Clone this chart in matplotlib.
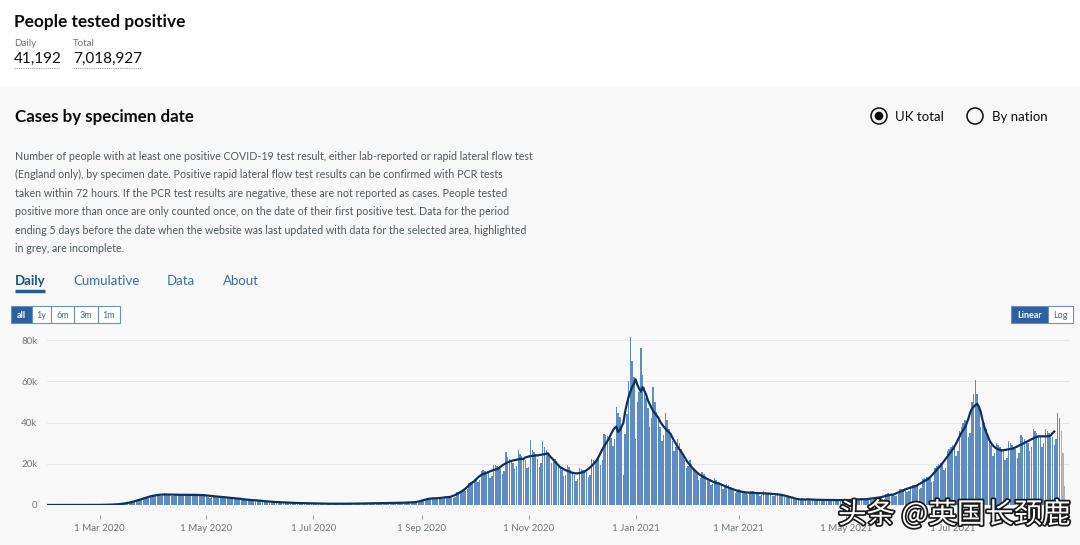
import numpy as np
import pandas as pd
import matplotlib
matplotlib.use("Agg")
import matplotlib.pyplot as plt
import matplotlib.dates as mdates
import matplotlib.patheffects as pe
from matplotlib.patches import Rectangle, Circle

plt.rcParams["font.family"] = ["Lato", "DejaVu Sans"]

# daily cases by specimen date, thousands, one row per week (Mon..Sun)
start_date = "2020-01-28"
n_incomplete = 3

early_2020 = [
    0, 0, 0, 0, 0, 0,
    0, 0, 0, 0, 0, 0, 0,
    0, 0, 0, 0, 0, 0, 0,
    0, 0, 0, 0, 0, 0, 0,
    0, 0, 0, 0, 0.01, 0.02, 0.02,
    0.04, 0.06, 0.07, 0.1, 0.13, 0.13, 0.15,
    0.25, 0.3, 0.35, 0.42, 0.5, 0.45, 0.5,
    0.9, 1.0, 1.2, 1.4, 1.6, 1.5, 1.7,
    2.5, 2.8, 3.0, 3.3, 3.5, 3.2, 3.4,
    4.5, 4.8, 4.9, 4.9, 5.0, 4.3, 4.4,
    5.4, 5.6, 5.5, 5.3, 4.9, 4.5, 4.4,
    5.3, 5.5, 5.3, 5.1, 4.8, 4.3, 4.3,
    5.3, 5.4, 5.2, 5.0, 4.8, 4.4, 4.2,
    5.4, 5.3, 5.1, 5.2, 4.6, 3.8, 3.6,
]
mid_2020 = [
    4.9, 4.8, 4.5, 4.3, 3.8, 3.4, 3.3,
    4.2, 4.0, 3.8, 3.6, 3.3, 2.9, 2.8,
    3.5, 3.4, 3.2, 3.0, 2.8, 2.4, 2.3,
    2.3, 2.8, 2.6, 2.5, 2.3, 2.0, 1.9,
    2.2, 2.1, 2.0, 1.8, 1.7, 1.4, 1.4,
    1.7, 1.6, 1.5, 1.4, 1.3, 1.1, 1.1,
    1.3, 1.3, 1.2, 1.1, 1.0, 0.9, 0.9,
    1.1, 1.0, 0.95, 0.9, 0.85, 0.7, 0.7,
    0.9, 0.85, 0.8, 0.75, 0.7, 0.6, 0.6,
    0.75, 0.75, 0.7, 0.65, 0.6, 0.5, 0.5,
    0.7, 0.7, 0.65, 0.6, 0.55, 0.45, 0.5,
    0.75, 0.75, 0.7, 0.65, 0.6, 0.5, 0.55,
    0.85, 0.85, 0.8, 0.75, 0.7, 0.6, 0.65,
    0.95, 0.95, 0.9, 0.85, 0.8, 0.7, 0.75,
    1.05, 1.05, 1.0, 0.95, 0.9, 0.8, 0.85,
    1.15, 1.15, 1.1, 1.05, 1.0, 0.9, 0.95,
    1.4, 1.4, 1.35, 1.3, 1.25, 1.1, 1.2,
]
autumn_2020 = [
    1.9, 2.3, 2.6, 2.8, 2.9, 2.7, 2.9,
    3.6, 3.5, 3.4, 3.3, 3.2, 2.9, 3.1,
    4.2, 4.2, 4.1, 3.9, 3.8, 3.4, 3.7,
    6.2, 6.4, 6.5, 6.8, 7.2, 6.6, 7.6,
    10.5, 11.0, 11.6, 12.4, 12.8, 11.0, 12.2,
    16.5, 16.8, 16.6, 16.2, 15.6, 13.2, 14.2,
    19.5, 19.2, 18.8, 18.2, 17.4, 15.0, 16.4,
    25.5, 23.4, 22.4, 21.6, 20.6, 17.4, 18.8,
    26.8, 24.6, 23.8, 23.0, 21.8, 17.8, 18.6,
    31.5, 26.5, 25.5, 24.2, 22.5, 18.2, 20.2,
    31.0, 28.0, 26.5, 25.0, 23.5, 20.2, 20.8,
    22.5, 21.5, 20.0, 18.5, 17.0, 14.0, 14.5,
    19.2, 18.2, 17.0, 16.0, 14.6, 11.8, 12.4,
]
winter_2020_21 = [
    18.0, 17.6, 17.2, 16.8, 16.0, 13.4, 14.6,
    22.4, 22.0, 22.0, 22.6, 22.4, 19.6, 21.8,
    34.5, 33.8, 33.6, 33.0, 32.4, 28.8, 32.0,
    47.5, 44.8, 42.5, 38.0, 14.5, 34.5, 44.0,
    60.0, 81.6, 70.0, 62.0, 32.0, 50.0, 55.0,
    76.0, 63.0, 57.0, 52.0, 47.0, 38.0, 42.0,
    57.0, 50.0, 45.0, 41.0, 38.0, 31.0, 34.0,
    44.5, 41.0, 37.0, 34.0, 31.0, 26.0, 28.0,
    32.0, 30.0, 27.0, 24.0, 22.0, 18.0, 19.0,
    22.0, 20.0, 18.0, 16.5, 15.0, 12.0, 13.0,
    16.0, 15.0, 14.0, 12.5, 11.5, 9.5, 10.0,
    13.0, 12.0, 11.0, 10.0, 9.5, 8.0, 8.5,
    10.0, 9.5, 8.5, 7.8, 7.0, 5.8, 6.4,
]
spring_2021 = [
    7.6, 7.2, 6.6, 6.2, 5.9, 4.8, 5.2,
    6.8, 6.6, 6.2, 5.9, 5.5, 4.5, 4.9,
    6.6, 6.4, 6.0, 5.7, 5.2, 4.3, 4.6,
    6.0, 5.8, 5.5, 5.2, 4.7, 3.8, 3.9,
    4.6, 4.4, 4.1, 3.7, 2.6, 2.5, 2.3,
    2.2, 3.3, 3.1, 2.9, 2.7, 2.2, 2.1,
    3.0, 2.9, 2.7, 2.6, 2.4, 2.0, 2.0,
    2.9, 2.8, 2.6, 2.5, 2.3, 1.9, 1.9,
    2.8, 2.7, 2.6, 2.5, 2.3, 1.9, 1.8,
    2.0, 3.0, 2.9, 2.8, 2.7, 2.2, 2.2,
    3.2, 3.1, 3.0, 2.9, 2.8, 2.3, 2.4,
    4.0, 4.0, 3.8, 3.7, 3.5, 2.9, 3.1,
    5.4, 5.6, 5.4, 5.2, 5.0, 4.2, 4.4,
]
summer_2021 = [
    5.2, 7.8, 8.0, 8.0, 7.6, 6.2, 6.6,
    9.2, 9.6, 9.8, 9.8, 9.6, 8.0, 8.4,
    12.5, 13.0, 13.5, 13.5, 13.0, 11.0, 11.5,
    18.0, 19.0, 20.0, 20.5, 20.0, 17.0, 18.0,
    26.0, 27.0, 28.0, 29.0, 28.0, 24.0, 26.0,
    36.0, 38.0, 40.0, 41.0, 40.0, 33.0, 35.0,
    50.0, 54.0, 60.6, 54.0, 47.0, 38.0, 40.0,
    40.0, 37.0, 34.0, 31.0, 29.0, 24.0, 25.0,
    30.0, 29.0, 28.0, 27.0, 26.0, 22.0, 23.0,
    31.0, 30.0, 29.0, 28.0, 27.0, 23.0, 25.0,
    34.0, 33.0, 32.0, 31.0, 30.0, 26.0, 28.0,
    37.0, 36.0, 35.0, 34.0, 33.0, 28.0, 30.0,
    37.0, 36.0, 35.0, 34.0, 33.0, 29.0, 32.0,
    44.5, 42.0, 36.0, 25.0, 9.0,
]

x_ticks = ["2020-03-01", "2020-05-01", "2020-07-01", "2020-09-01", "2020-11-01",
           "2021-01-01", "2021-03-01", "2021-05-01", "2021-07-01"]
y_ticks = [0, 20000, 40000, 60000, 80000]
y_labels = ["0", "20k", "40k", "60k", "80k"]

desc_lines = [
    "Number of people with at least one positive COVID-19 test result, either lab-reported or rapid lateral flow test",
    "(England only), by specimen date. Positive rapid lateral flow test results can be confirmed with PCR tests",
    "taken within 72 hours. If the PCR test results are negative, these are not reported as cases. People tested",
    "positive more than once are only counted once, on the date of their first positive test. Data for the period",
    "ending 5 days before the date when the website was last updated with data for the selected area, highlighted",
    "in grey, are incomplete.",
]

cases = np.array(early_2020 + mid_2020 + autumn_2020 + winter_2020_21
                 + spring_2021 + summer_2021) * 1000
dates = pd.date_range(start_date, periods=len(cases), freq="D")
complete = pd.Series(cases[:-n_incomplete], index=dates[:-n_incomplete])
avg7 = complete.rolling(7, center=True).mean()

fig = plt.figure(figsize=(10.8, 5.45), dpi=100)
fig.patch.set_facecolor("white")

# page furniture drawn in pixel coords
ui = fig.add_axes([0, 0, 1, 1])
ui.set_xlim(0, 1080)
ui.set_ylim(545, 0)
ui.axis("off")
ui.add_patch(Rectangle((0, 87), 1080, 458, color="#f8f8f8", lw=0))

dark = "#0b0c0c"
grey_txt = "#505a5f"
ui.text(14, 22, "People tested positive", fontsize=12.4, fontweight="bold", color=dark, va="center")
ui.text(14, 43, "Daily", fontsize=7, color="#6f777b", va="center")
ui.text(73, 43, "Total", fontsize=7, color="#6f777b", va="center")
ui.text(14, 59, "41,192", fontsize=11, color=dark, va="center")
ui.text(73, 59, "7,018,927", fontsize=11, color=dark, va="center")
ui.plot([14, 59], [68, 68], ls=(0, (1, 1)), color="#9aa0a3", lw=0.8)
ui.plot([73, 142], [68, 68], ls=(0, (1, 1)), color="#9aa0a3", lw=0.8)

ui.text(15, 117, "Cases by specimen date", fontsize=12.2, fontweight="bold", color=dark, va="center")

ui.add_patch(Circle((879, 116), 8, fill=False, ec=dark, lw=1.1))
ui.add_patch(Circle((879, 116), 3.6, color=dark))
ui.text(895, 117, "UK total", fontsize=9.5, color=dark, va="center")
ui.add_patch(Circle((975, 116), 8, fill=False, ec=dark, lw=1.1))
ui.text(992, 117, "By nation", fontsize=9.5, color=dark, va="center")

for i, line in enumerate(desc_lines):
    ui.text(15, 156 + i * 18.6, line, fontsize=7.7, color=grey_txt, va="center")

ui.text(15, 281, "Daily", fontsize=9.5, fontweight="bold", color="#1d4f86", va="center")
ui.plot([15, 45], [291, 291], color="#2a5b95", lw=2.5, solid_capstyle="butt")
for x, lab in [(73, "Cumulative"), (167, "Data"), (223, "About")]:
    ui.text(x, 281, lab, fontsize=9.5, color="#3d6fa5", va="center")

btn_edge = "#6b8fbf"
for x0, x1, lab in [(11, 32, "all"), (32, 51, "1y"), (51, 74, "6m"), (74, 98, "3m"), (98, 120, "1m")]:
    on = lab == "all"
    ui.add_patch(Rectangle((x0, 306), x1 - x0, 17, fc="#2f5f9e" if on else "white",
                           ec=btn_edge, lw=0.8))
    ui.text((x0 + x1) / 2, 315, lab, fontsize=6.5, ha="center", va="center",
            color="white" if on else "#3d6fa5", fontweight="bold" if on else "normal")
for x0, x1, lab in [(1011, 1048, "Linear"), (1048, 1073, "Log")]:
    on = lab == "Linear"
    ui.add_patch(Rectangle((x0, 306), x1 - x0, 17, fc="#2f5f9e" if on else "white",
                           ec=btn_edge, lw=0.8))
    ui.text((x0 + x1) / 2, 315, lab, fontsize=6.5, ha="center", va="center",
            color="white" if on else "#3d6fa5", fontweight="bold" if on else "normal")

# chart
ymax = 82000
top_px = 505 - ymax / 80000 * 165
ax = fig.add_axes([47 / 1080, 40 / 545, 1023 / 1080, (505 - top_px) / 545])
ax.patch.set_alpha(0)

colors = ["#5f8cc3"] * (len(cases) - n_incomplete) + ["#b1b4b6"] * n_incomplete
ax.bar(dates, cases, width=0.8, color=colors, lw=0, zorder=2, clip_on=False)
ax.plot(avg7.index, avg7.values, color="#0f2f5e", lw=1.6, zorder=3)

ax.set_xlim(pd.Timestamp("2020-01-31"), pd.Timestamp("2021-09-06"))
ax.set_ylim(0, ymax)
ax.set_yticks(y_ticks)
ax.set_yticklabels(y_labels)
ax.yaxis.grid(True, color="#e6e6e6", lw=0.8, zorder=0)
ax.axhline(0, color="#d6d6d6", lw=0.8, zorder=1)

ax.set_xticks(pd.to_datetime(x_ticks))
ax.xaxis.set_major_formatter(mdates.DateFormatter("1 %b %Y"))
for s in ax.spines.values():
    s.set_visible(False)
ax.spines["bottom"].set_position(("outward", 7))
ax.tick_params(axis="x", length=3, width=0.8, color="#9aa0a3", pad=4,
               labelsize=7, labelcolor="#6f777b")
ax.tick_params(axis="y", length=0, pad=7, labelsize=7, labelcolor="#6f777b")

fig.text(838 / 1080, 1 - 515 / 545, "头条 @英国长颈鹿", fontsize=20.5, color="white",
         family=["Noto Sans CJK SC", "DejaVu Sans"], va="center",
         path_effects=[pe.withStroke(linewidth=2.5, foreground="#1a1a1a")])

fig.savefig("out.png", dpi=100, facecolor=fig.get_facecolor())
